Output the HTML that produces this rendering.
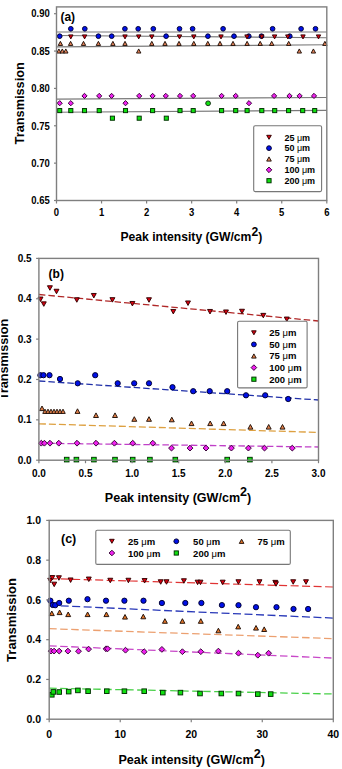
<!DOCTYPE html><html><head><meta charset="utf-8"><style>html,body{margin:0;padding:0;background:#fff;width:342px;height:769px;overflow:hidden;position:relative}</style></head><body><svg width="342" height="769" viewBox="0 0 342 769" style="position:absolute;left:0;top:0" font-family='"Liberation Sans", sans-serif' fill="#000">
<line x1="56.5" y1="32.0" x2="326.8" y2="32.0" stroke="#7a7a7a" stroke-width="1.15"/>
<line x1="56.5" y1="35.45" x2="326.8" y2="37.75" stroke="#7a7a7a" stroke-width="1.15"/>
<line x1="56.5" y1="46.85" x2="326.8" y2="44.75" stroke="#7a7a7a" stroke-width="1.15"/>
<line x1="56.5" y1="99.1" x2="326.8" y2="97.5" stroke="#7a7a7a" stroke-width="1.15"/>
<line x1="56.5" y1="112.2" x2="326.8" y2="110.4" stroke="#7a7a7a" stroke-width="1.15"/>
<circle cx="59.70" cy="36.20" r="2.35" fill="#0010e8" stroke="#000030" stroke-width="0.95"/>
<circle cx="98.40" cy="36.20" r="2.35" fill="#0010e8" stroke="#000030" stroke-width="0.95"/>
<circle cx="111.70" cy="36.20" r="2.35" fill="#0010e8" stroke="#000030" stroke-width="0.95"/>
<circle cx="166.10" cy="36.20" r="2.35" fill="#0010e8" stroke="#000030" stroke-width="0.95"/>
<circle cx="207.90" cy="36.20" r="2.35" fill="#0010e8" stroke="#000030" stroke-width="0.95"/>
<circle cx="234.00" cy="36.20" r="2.35" fill="#0010e8" stroke="#000030" stroke-width="0.95"/>
<circle cx="248.80" cy="36.20" r="2.35" fill="#0010e8" stroke="#000030" stroke-width="0.95"/>
<circle cx="261.50" cy="36.20" r="2.35" fill="#0010e8" stroke="#000030" stroke-width="0.95"/>
<circle cx="289.80" cy="36.20" r="2.35" fill="#0010e8" stroke="#000030" stroke-width="0.95"/>
<path d="M68.60 34.90L73.00 34.90L70.80 38.90Z" fill="#dc0010" stroke="#300000" stroke-width="0.95"/>
<path d="M82.40 34.90L86.80 34.90L84.60 38.90Z" fill="#dc0010" stroke="#300000" stroke-width="0.95"/>
<path d="M122.80 34.90L127.20 34.90L125.00 38.90Z" fill="#dc0010" stroke="#300000" stroke-width="0.95"/>
<path d="M136.50 34.90L140.90 34.90L138.70 38.90Z" fill="#dc0010" stroke="#300000" stroke-width="0.95"/>
<path d="M149.60 34.90L154.00 34.90L151.80 38.90Z" fill="#dc0010" stroke="#300000" stroke-width="0.95"/>
<path d="M177.30 34.90L181.70 34.90L179.50 38.90Z" fill="#dc0010" stroke="#300000" stroke-width="0.95"/>
<path d="M191.60 34.90L196.00 34.90L193.80 38.90Z" fill="#dc0010" stroke="#300000" stroke-width="0.95"/>
<path d="M218.80 34.90L223.20 34.90L221.00 38.90Z" fill="#dc0010" stroke="#300000" stroke-width="0.95"/>
<path d="M244.80 34.90L249.20 34.90L247.00 38.90Z" fill="#dc0010" stroke="#300000" stroke-width="0.95"/>
<path d="M259.60 34.90L264.00 34.90L261.80 38.90Z" fill="#dc0010" stroke="#300000" stroke-width="0.95"/>
<path d="M272.40 34.90L276.80 34.90L274.60 38.90Z" fill="#dc0010" stroke="#300000" stroke-width="0.95"/>
<path d="M285.60 34.90L290.00 34.90L287.80 38.90Z" fill="#dc0010" stroke="#300000" stroke-width="0.95"/>
<path d="M300.80 34.90L305.20 34.90L303.00 38.90Z" fill="#dc0010" stroke="#300000" stroke-width="0.95"/>
<path d="M316.30 34.90L320.70 34.90L318.50 38.90Z" fill="#dc0010" stroke="#300000" stroke-width="0.95"/>
<circle cx="70.80" cy="28.80" r="2.35" fill="#0010e8" stroke="#000030" stroke-width="0.95"/>
<circle cx="84.80" cy="28.80" r="2.35" fill="#0010e8" stroke="#000030" stroke-width="0.95"/>
<circle cx="124.90" cy="28.80" r="2.35" fill="#0010e8" stroke="#000030" stroke-width="0.95"/>
<circle cx="138.20" cy="28.80" r="2.35" fill="#0010e8" stroke="#000030" stroke-width="0.95"/>
<circle cx="153.30" cy="28.80" r="2.35" fill="#0010e8" stroke="#000030" stroke-width="0.95"/>
<circle cx="179.50" cy="28.80" r="2.35" fill="#0010e8" stroke="#000030" stroke-width="0.95"/>
<circle cx="192.60" cy="28.80" r="2.35" fill="#0010e8" stroke="#000030" stroke-width="0.95"/>
<circle cx="223.10" cy="28.80" r="2.35" fill="#0010e8" stroke="#000030" stroke-width="0.95"/>
<circle cx="272.60" cy="28.80" r="2.35" fill="#0010e8" stroke="#000030" stroke-width="0.95"/>
<circle cx="301.10" cy="28.80" r="2.35" fill="#0010e8" stroke="#000030" stroke-width="0.95"/>
<circle cx="315.50" cy="28.80" r="2.35" fill="#0010e8" stroke="#000030" stroke-width="0.95"/>
<path d="M58.20 45.45L62.60 45.45L60.40 41.35Z" fill="#e6845a" stroke="#201008" stroke-width="0.95"/>
<path d="M68.40 45.45L72.80 45.45L70.60 41.35Z" fill="#e6845a" stroke="#201008" stroke-width="0.95"/>
<path d="M81.30 45.45L85.70 45.45L83.50 41.35Z" fill="#e6845a" stroke="#201008" stroke-width="0.95"/>
<path d="M96.20 45.45L100.60 45.45L98.40 41.35Z" fill="#e6845a" stroke="#201008" stroke-width="0.95"/>
<path d="M110.70 45.45L115.10 45.45L112.90 41.35Z" fill="#e6845a" stroke="#201008" stroke-width="0.95"/>
<path d="M122.80 45.45L127.20 45.45L125.00 41.35Z" fill="#e6845a" stroke="#201008" stroke-width="0.95"/>
<path d="M149.60 45.45L154.00 45.45L151.80 41.35Z" fill="#e6845a" stroke="#201008" stroke-width="0.95"/>
<path d="M162.80 45.45L167.20 45.45L165.00 41.35Z" fill="#e6845a" stroke="#201008" stroke-width="0.95"/>
<path d="M176.80 45.45L181.20 45.45L179.00 41.35Z" fill="#e6845a" stroke="#201008" stroke-width="0.95"/>
<path d="M191.60 45.45L196.00 45.45L193.80 41.35Z" fill="#e6845a" stroke="#201008" stroke-width="0.95"/>
<path d="M205.60 45.45L210.00 45.45L207.80 41.35Z" fill="#e6845a" stroke="#201008" stroke-width="0.95"/>
<path d="M217.80 45.45L222.20 45.45L220.00 41.35Z" fill="#e6845a" stroke="#201008" stroke-width="0.95"/>
<path d="M230.80 45.45L235.20 45.45L233.00 41.35Z" fill="#e6845a" stroke="#201008" stroke-width="0.95"/>
<path d="M244.90 45.45L249.30 45.45L247.10 41.35Z" fill="#e6845a" stroke="#201008" stroke-width="0.95"/>
<path d="M258.00 45.45L262.40 45.45L260.20 41.35Z" fill="#e6845a" stroke="#201008" stroke-width="0.95"/>
<path d="M269.50 45.45L273.90 45.45L271.70 41.35Z" fill="#e6845a" stroke="#201008" stroke-width="0.95"/>
<path d="M286.50 45.45L290.90 45.45L288.70 41.35Z" fill="#e6845a" stroke="#201008" stroke-width="0.95"/>
<path d="M322.70 45.45L327.10 45.45L324.90 41.35Z" fill="#e6845a" stroke="#201008" stroke-width="0.95"/>
<path d="M56.70 53.05L61.10 53.05L58.90 48.95Z" fill="#e6845a" stroke="#201008" stroke-width="0.95"/>
<path d="M60.10 53.05L64.50 53.05L62.30 48.95Z" fill="#e6845a" stroke="#201008" stroke-width="0.95"/>
<path d="M63.60 53.05L68.00 53.05L65.80 48.95Z" fill="#e6845a" stroke="#201008" stroke-width="0.95"/>
<path d="M136.50 53.05L140.90 53.05L138.70 48.95Z" fill="#e6845a" stroke="#201008" stroke-width="0.95"/>
<path d="M297.10 53.05L301.50 53.05L299.30 48.95Z" fill="#e6845a" stroke="#201008" stroke-width="0.95"/>
<path d="M311.20 53.05L315.60 53.05L313.40 48.95Z" fill="#e6845a" stroke="#201008" stroke-width="0.95"/>
<path d="M84.50 93.30L87.10 95.90L84.50 98.50L81.90 95.90Z" fill="#f020f0" stroke="#300030" stroke-width="0.95"/>
<path d="M99.20 93.30L101.80 95.90L99.20 98.50L96.60 95.90Z" fill="#f020f0" stroke="#300030" stroke-width="0.95"/>
<path d="M111.60 93.30L114.20 95.90L111.60 98.50L109.00 95.90Z" fill="#f020f0" stroke="#300030" stroke-width="0.95"/>
<path d="M139.20 93.30L141.80 95.90L139.20 98.50L136.60 95.90Z" fill="#f020f0" stroke="#300030" stroke-width="0.95"/>
<path d="M152.60 93.30L155.20 95.90L152.60 98.50L150.00 95.90Z" fill="#f020f0" stroke="#300030" stroke-width="0.95"/>
<path d="M165.80 93.30L168.40 95.90L165.80 98.50L163.20 95.90Z" fill="#f020f0" stroke="#300030" stroke-width="0.95"/>
<path d="M180.00 93.30L182.60 95.90L180.00 98.50L177.40 95.90Z" fill="#f020f0" stroke="#300030" stroke-width="0.95"/>
<path d="M193.20 93.30L195.80 95.90L193.20 98.50L190.60 95.90Z" fill="#f020f0" stroke="#300030" stroke-width="0.95"/>
<path d="M221.60 93.30L224.20 95.90L221.60 98.50L219.00 95.90Z" fill="#f020f0" stroke="#300030" stroke-width="0.95"/>
<path d="M235.70 93.30L238.30 95.90L235.70 98.50L233.10 95.90Z" fill="#f020f0" stroke="#300030" stroke-width="0.95"/>
<path d="M274.10 93.30L276.70 95.90L274.10 98.50L271.50 95.90Z" fill="#f020f0" stroke="#300030" stroke-width="0.95"/>
<path d="M289.50 93.30L292.10 95.90L289.50 98.50L286.90 95.90Z" fill="#f020f0" stroke="#300030" stroke-width="0.95"/>
<path d="M299.60 93.30L302.20 95.90L299.60 98.50L297.00 95.90Z" fill="#f020f0" stroke="#300030" stroke-width="0.95"/>
<path d="M314.00 93.30L316.60 95.90L314.00 98.50L311.40 95.90Z" fill="#f020f0" stroke="#300030" stroke-width="0.95"/>
<path d="M59.70 100.60L62.30 103.20L59.70 105.80L57.10 103.20Z" fill="#f020f0" stroke="#300030" stroke-width="0.95"/>
<path d="M70.80 100.60L73.40 103.20L70.80 105.80L68.20 103.20Z" fill="#f020f0" stroke="#300030" stroke-width="0.95"/>
<path d="M125.50 100.60L128.10 103.20L125.50 105.80L122.90 103.20Z" fill="#f020f0" stroke="#300030" stroke-width="0.95"/>
<path d="M249.00 100.60L251.60 103.20L249.00 105.80L246.40 103.20Z" fill="#f020f0" stroke="#300030" stroke-width="0.95"/>
<rect x="57.65" y="108.55" width="4.1" height="4.1" fill="#10e010" stroke="#003000" stroke-width="0.95"/>
<rect x="68.75" y="108.55" width="4.1" height="4.1" fill="#10e010" stroke="#003000" stroke-width="0.95"/>
<rect x="82.45" y="108.55" width="4.1" height="4.1" fill="#10e010" stroke="#003000" stroke-width="0.95"/>
<rect x="97.15" y="108.55" width="4.1" height="4.1" fill="#10e010" stroke="#003000" stroke-width="0.95"/>
<rect x="123.45" y="108.55" width="4.1" height="4.1" fill="#10e010" stroke="#003000" stroke-width="0.95"/>
<rect x="150.55" y="108.55" width="4.1" height="4.1" fill="#10e010" stroke="#003000" stroke-width="0.95"/>
<rect x="177.95" y="108.55" width="4.1" height="4.1" fill="#10e010" stroke="#003000" stroke-width="0.95"/>
<rect x="191.15" y="108.55" width="4.1" height="4.1" fill="#10e010" stroke="#003000" stroke-width="0.95"/>
<rect x="219.55" y="108.55" width="4.1" height="4.1" fill="#10e010" stroke="#003000" stroke-width="0.95"/>
<rect x="233.65" y="108.55" width="4.1" height="4.1" fill="#10e010" stroke="#003000" stroke-width="0.95"/>
<rect x="245.05" y="108.55" width="4.1" height="4.1" fill="#10e010" stroke="#003000" stroke-width="0.95"/>
<rect x="259.75" y="108.55" width="4.1" height="4.1" fill="#10e010" stroke="#003000" stroke-width="0.95"/>
<rect x="272.65" y="108.55" width="4.1" height="4.1" fill="#10e010" stroke="#003000" stroke-width="0.95"/>
<rect x="286.55" y="108.55" width="4.1" height="4.1" fill="#10e010" stroke="#003000" stroke-width="0.95"/>
<rect x="300.65" y="108.55" width="4.1" height="4.1" fill="#10e010" stroke="#003000" stroke-width="0.95"/>
<rect x="312.65" y="108.55" width="4.1" height="4.1" fill="#10e010" stroke="#003000" stroke-width="0.95"/>
<rect x="110.35" y="116.15" width="4.1" height="4.1" fill="#10e010" stroke="#003000" stroke-width="0.95"/>
<rect x="137.15" y="116.15" width="4.1" height="4.1" fill="#10e010" stroke="#003000" stroke-width="0.95"/>
<rect x="164.25" y="116.15" width="4.1" height="4.1" fill="#10e010" stroke="#003000" stroke-width="0.95"/>
<circle cx="208.1" cy="103.3" r="2.4" fill="#10e010" stroke="#102010" stroke-width="0.9"/>
<rect x="56.5" y="6.9" width="270.3" height="193.6" fill="none" stroke="#7f7f7f" stroke-width="1.4"/>
<line x1="54.0" y1="200.50" x2="56.5" y2="200.50" stroke="#7f7f7f" stroke-width="1.2"/>
<text transform="translate(49.80 200.40) scale(1 1.12)" x="0" y="3.40" font-size="9.5" text-anchor="end" font-weight="bold">0.65</text>
<line x1="54.0" y1="163.14" x2="56.5" y2="163.14" stroke="#7f7f7f" stroke-width="1.2"/>
<text transform="translate(49.80 163.04) scale(1 1.12)" x="0" y="3.40" font-size="9.5" text-anchor="end" font-weight="bold">0.70</text>
<line x1="54.0" y1="125.78" x2="56.5" y2="125.78" stroke="#7f7f7f" stroke-width="1.2"/>
<text transform="translate(49.80 125.68) scale(1 1.12)" x="0" y="3.40" font-size="9.5" text-anchor="end" font-weight="bold">0.75</text>
<line x1="54.0" y1="88.42" x2="56.5" y2="88.42" stroke="#7f7f7f" stroke-width="1.2"/>
<text transform="translate(49.80 88.32) scale(1 1.12)" x="0" y="3.40" font-size="9.5" text-anchor="end" font-weight="bold">0.80</text>
<line x1="54.0" y1="51.06" x2="56.5" y2="51.06" stroke="#7f7f7f" stroke-width="1.2"/>
<text transform="translate(49.80 50.96) scale(1 1.12)" x="0" y="3.40" font-size="9.5" text-anchor="end" font-weight="bold">0.85</text>
<line x1="54.0" y1="13.70" x2="56.5" y2="13.70" stroke="#7f7f7f" stroke-width="1.2"/>
<text transform="translate(49.80 13.60) scale(1 1.12)" x="0" y="3.40" font-size="9.5" text-anchor="end" font-weight="bold">0.90</text>
<line x1="56.50" y1="200.5" x2="56.50" y2="203.5" stroke="#7f7f7f" stroke-width="1.2"/>
<text transform="translate(56.50 212.50) scale(1 1.12)" x="0" y="3.40" font-size="9.5" text-anchor="middle" font-weight="bold">0</text>
<line x1="101.55" y1="200.5" x2="101.55" y2="203.5" stroke="#7f7f7f" stroke-width="1.2"/>
<text transform="translate(101.55 212.50) scale(1 1.12)" x="0" y="3.40" font-size="9.5" text-anchor="middle" font-weight="bold">1</text>
<line x1="146.60" y1="200.5" x2="146.60" y2="203.5" stroke="#7f7f7f" stroke-width="1.2"/>
<text transform="translate(146.60 212.50) scale(1 1.12)" x="0" y="3.40" font-size="9.5" text-anchor="middle" font-weight="bold">2</text>
<line x1="191.65" y1="200.5" x2="191.65" y2="203.5" stroke="#7f7f7f" stroke-width="1.2"/>
<text transform="translate(191.65 212.50) scale(1 1.12)" x="0" y="3.40" font-size="9.5" text-anchor="middle" font-weight="bold">3</text>
<line x1="236.70" y1="200.5" x2="236.70" y2="203.5" stroke="#7f7f7f" stroke-width="1.2"/>
<text transform="translate(236.70 212.50) scale(1 1.12)" x="0" y="3.40" font-size="9.5" text-anchor="middle" font-weight="bold">4</text>
<line x1="281.75" y1="200.5" x2="281.75" y2="203.5" stroke="#7f7f7f" stroke-width="1.2"/>
<text transform="translate(281.75 212.50) scale(1 1.12)" x="0" y="3.40" font-size="9.5" text-anchor="middle" font-weight="bold">5</text>
<line x1="326.80" y1="200.5" x2="326.80" y2="203.5" stroke="#7f7f7f" stroke-width="1.2"/>
<text transform="translate(326.80 212.50) scale(1 1.12)" x="0" y="3.40" font-size="9.5" text-anchor="middle" font-weight="bold">6</text>
<text x="60.40" y="21.00" font-size="12" text-anchor="start" font-weight="bold" >(a)</text>
<text x="23.90" y="103.30" font-size="12.75" text-anchor="middle" font-weight="bold" transform="rotate(-90 23.9 103.3)">Transmission</text>
<text x="120.5" y="241.0" font-size="12.15" font-weight="bold">Peak intensity (GW/cm<tspan dy="-5.4">2</tspan><tspan dy="5.4">)</tspan></text>
<rect x="253.7" y="125.8" width="67.9" height="65.8" fill="#fff" stroke="#777" stroke-width="1.1" rx="1.5"/>
<path d="M266.70 135.30L271.30 135.30L269.00 139.30Z" fill="#dc0010" stroke="#300000" stroke-width="0.95"/>
<text x="284.4" y="140.50" font-size="9" font-weight="bold">25 <tspan font-weight="normal">&#956;</tspan>m</text>
<circle cx="269.00" cy="148.15" r="2.4" fill="#0010e8" stroke="#000030" stroke-width="0.95"/>
<text x="284.4" y="151.35" font-size="9" font-weight="bold">50 <tspan font-weight="normal">&#956;</tspan>m</text>
<path d="M266.70 161.10L271.30 161.10L269.00 156.90Z" fill="#e6845a" stroke="#201008" stroke-width="0.95"/>
<text x="284.4" y="162.20" font-size="9" font-weight="bold">75 <tspan font-weight="normal">&#956;</tspan>m</text>
<path d="M269.00 167.05L271.80 169.85L269.00 172.65L266.20 169.85Z" fill="#f020f0" stroke="#300030" stroke-width="0.95"/>
<text x="284.4" y="173.05" font-size="9" font-weight="bold">100 <tspan font-weight="normal">&#956;</tspan>m</text>
<rect x="266.90" y="178.60" width="4.2" height="4.2" fill="#10e010" stroke="#003000" stroke-width="0.95"/>
<text x="284.4" y="183.90" font-size="9" font-weight="bold">200 <tspan font-weight="normal">&#956;</tspan>m</text>
<line x1="38.9" y1="294.5" x2="318.5" y2="321" stroke="#b02828" stroke-width="1.3" stroke-dasharray="6.5 3"/>
<line x1="38.9" y1="381" x2="318.5" y2="400" stroke="#2030a8" stroke-width="1.3" stroke-dasharray="6.5 3"/>
<line x1="38.9" y1="423.8" x2="318.5" y2="432.4" stroke="#dda040" stroke-width="1.3" stroke-dasharray="7 3"/>
<line x1="38.9" y1="443.2" x2="318.5" y2="447" stroke="#c040c8" stroke-width="1.3" stroke-dasharray="6.5 3"/>
<path d="M38.04 297.06L42.96 297.06L40.50 301.54Z" fill="#dc0010" stroke="#300000" stroke-width="0.95"/>
<path d="M41.34 301.86L46.26 301.86L43.80 306.34Z" fill="#dc0010" stroke="#300000" stroke-width="0.95"/>
<path d="M47.44 285.76L52.36 285.76L49.90 290.24Z" fill="#dc0010" stroke="#300000" stroke-width="0.95"/>
<path d="M54.04 289.26L58.96 289.26L56.50 293.74Z" fill="#dc0010" stroke="#300000" stroke-width="0.95"/>
<path d="M74.34 297.76L79.26 297.76L76.80 302.24Z" fill="#dc0010" stroke="#300000" stroke-width="0.95"/>
<path d="M91.34 293.46L96.26 293.46L93.80 297.94Z" fill="#dc0010" stroke="#300000" stroke-width="0.95"/>
<path d="M109.94 297.66L114.86 297.66L112.40 302.14Z" fill="#dc0010" stroke="#300000" stroke-width="0.95"/>
<path d="M129.94 301.46L134.86 301.46L132.40 305.94Z" fill="#dc0010" stroke="#300000" stroke-width="0.95"/>
<path d="M146.54 297.76L151.46 297.76L149.00 302.24Z" fill="#dc0010" stroke="#300000" stroke-width="0.95"/>
<path d="M170.84 309.46L175.76 309.46L173.30 313.94Z" fill="#dc0010" stroke="#300000" stroke-width="0.95"/>
<path d="M185.54 300.96L190.46 300.96L188.00 305.44Z" fill="#dc0010" stroke="#300000" stroke-width="0.95"/>
<path d="M207.54 309.46L212.46 309.46L210.00 313.94Z" fill="#dc0010" stroke="#300000" stroke-width="0.95"/>
<path d="M223.54 309.96L228.46 309.96L226.00 314.44Z" fill="#dc0010" stroke="#300000" stroke-width="0.95"/>
<path d="M239.54 309.26L244.46 309.26L242.00 313.74Z" fill="#dc0010" stroke="#300000" stroke-width="0.95"/>
<path d="M260.84 313.36L265.76 313.36L263.30 317.84Z" fill="#dc0010" stroke="#300000" stroke-width="0.95"/>
<path d="M284.34 317.06L289.26 317.06L286.80 321.54Z" fill="#dc0010" stroke="#300000" stroke-width="0.95"/>
<circle cx="40.40" cy="375.20" r="2.63" fill="#0010e8" stroke="#000030" stroke-width="0.95"/>
<circle cx="43.50" cy="375.20" r="2.63" fill="#0010e8" stroke="#000030" stroke-width="0.95"/>
<circle cx="49.50" cy="375.20" r="2.63" fill="#0010e8" stroke="#000030" stroke-width="0.95"/>
<circle cx="60.00" cy="379.00" r="2.63" fill="#0010e8" stroke="#000030" stroke-width="0.95"/>
<circle cx="77.70" cy="383.30" r="2.63" fill="#0010e8" stroke="#000030" stroke-width="0.95"/>
<circle cx="95.20" cy="375.20" r="2.63" fill="#0010e8" stroke="#000030" stroke-width="0.95"/>
<circle cx="117.70" cy="383.30" r="2.63" fill="#0010e8" stroke="#000030" stroke-width="0.95"/>
<circle cx="134.20" cy="383.30" r="2.63" fill="#0010e8" stroke="#000030" stroke-width="0.95"/>
<circle cx="149.00" cy="383.30" r="2.63" fill="#0010e8" stroke="#000030" stroke-width="0.95"/>
<circle cx="172.50" cy="387.20" r="2.63" fill="#0010e8" stroke="#000030" stroke-width="0.95"/>
<circle cx="193.20" cy="391.20" r="2.63" fill="#0010e8" stroke="#000030" stroke-width="0.95"/>
<circle cx="209.70" cy="391.20" r="2.63" fill="#0010e8" stroke="#000030" stroke-width="0.95"/>
<circle cx="227.20" cy="391.20" r="2.63" fill="#0010e8" stroke="#000030" stroke-width="0.95"/>
<circle cx="246.00" cy="395.30" r="2.63" fill="#0010e8" stroke="#000030" stroke-width="0.95"/>
<circle cx="265.20" cy="395.30" r="2.63" fill="#0010e8" stroke="#000030" stroke-width="0.95"/>
<circle cx="288.20" cy="399.00" r="2.63" fill="#0010e8" stroke="#000030" stroke-width="0.95"/>
<path d="M39.54 410.60L44.46 410.60L42.00 406.00Z" fill="#e3804a" stroke="#201008" stroke-width="0.95"/>
<path d="M42.76 413.43L47.24 413.43L45.00 409.17Z" fill="#e3804a" stroke="#201008" stroke-width="0.95"/>
<path d="M45.76 413.43L50.24 413.43L48.00 409.17Z" fill="#e3804a" stroke="#201008" stroke-width="0.95"/>
<path d="M48.76 413.43L53.24 413.43L51.00 409.17Z" fill="#e3804a" stroke="#201008" stroke-width="0.95"/>
<path d="M51.76 413.43L56.24 413.43L54.00 409.17Z" fill="#e3804a" stroke="#201008" stroke-width="0.95"/>
<path d="M54.76 413.43L59.24 413.43L57.00 409.17Z" fill="#e3804a" stroke="#201008" stroke-width="0.95"/>
<path d="M57.76 413.43L62.24 413.43L60.00 409.17Z" fill="#e3804a" stroke="#201008" stroke-width="0.95"/>
<path d="M60.76 413.43L65.24 413.43L63.00 409.17Z" fill="#e3804a" stroke="#201008" stroke-width="0.95"/>
<path d="M75.04 413.40L79.96 413.40L77.50 408.80Z" fill="#e3804a" stroke="#201008" stroke-width="0.95"/>
<path d="M93.54 417.50L98.46 417.50L96.00 412.90Z" fill="#e3804a" stroke="#201008" stroke-width="0.95"/>
<path d="M112.54 417.50L117.46 417.50L115.00 412.90Z" fill="#e3804a" stroke="#201008" stroke-width="0.95"/>
<path d="M131.84 421.30L136.76 421.30L134.30 416.70Z" fill="#e3804a" stroke="#201008" stroke-width="0.95"/>
<path d="M146.54 421.30L151.46 421.30L149.00 416.70Z" fill="#e3804a" stroke="#201008" stroke-width="0.95"/>
<path d="M169.34 421.80L174.26 421.80L171.80 417.20Z" fill="#e3804a" stroke="#201008" stroke-width="0.95"/>
<path d="M189.04 425.60L193.96 425.60L191.50 421.00Z" fill="#e3804a" stroke="#201008" stroke-width="0.95"/>
<path d="M207.74 425.60L212.66 425.60L210.20 421.00Z" fill="#e3804a" stroke="#201008" stroke-width="0.95"/>
<path d="M221.14 425.60L226.06 425.60L223.60 421.00Z" fill="#e3804a" stroke="#201008" stroke-width="0.95"/>
<path d="M247.94 429.10L252.86 429.10L250.40 424.50Z" fill="#e3804a" stroke="#201008" stroke-width="0.95"/>
<path d="M266.24 429.10L271.16 429.10L268.70 424.50Z" fill="#e3804a" stroke="#201008" stroke-width="0.95"/>
<path d="M280.04 429.10L284.96 429.10L282.50 424.50Z" fill="#e3804a" stroke="#201008" stroke-width="0.95"/>
<path d="M41.30 440.29L44.21 443.20L41.30 446.11L38.39 443.20Z" fill="#f020f0" stroke="#300030" stroke-width="0.95"/>
<path d="M44.40 440.29L47.31 443.20L44.40 446.11L41.49 443.20Z" fill="#f020f0" stroke="#300030" stroke-width="0.95"/>
<path d="M50.00 440.29L52.91 443.20L50.00 446.11L47.09 443.20Z" fill="#f020f0" stroke="#300030" stroke-width="0.95"/>
<path d="M58.80 440.29L61.71 443.20L58.80 446.11L55.89 443.20Z" fill="#f020f0" stroke="#300030" stroke-width="0.95"/>
<path d="M77.00 440.29L79.91 443.20L77.00 446.11L74.09 443.20Z" fill="#f020f0" stroke="#300030" stroke-width="0.95"/>
<path d="M96.00 440.29L98.91 443.20L96.00 446.11L93.09 443.20Z" fill="#f020f0" stroke="#300030" stroke-width="0.95"/>
<path d="M114.40 440.29L117.31 443.20L114.40 446.11L111.49 443.20Z" fill="#f020f0" stroke="#300030" stroke-width="0.95"/>
<path d="M132.70 440.29L135.61 443.20L132.70 446.11L129.79 443.20Z" fill="#f020f0" stroke="#300030" stroke-width="0.95"/>
<path d="M152.80 440.29L155.71 443.20L152.80 446.11L149.89 443.20Z" fill="#f020f0" stroke="#300030" stroke-width="0.95"/>
<path d="M171.50 445.19L174.41 448.10L171.50 451.01L168.59 448.10Z" fill="#f020f0" stroke="#300030" stroke-width="0.95"/>
<path d="M190.00 445.19L192.91 448.10L190.00 451.01L187.09 448.10Z" fill="#f020f0" stroke="#300030" stroke-width="0.95"/>
<path d="M206.00 445.19L208.91 448.10L206.00 451.01L203.09 448.10Z" fill="#f020f0" stroke="#300030" stroke-width="0.95"/>
<path d="M231.40 445.19L234.31 448.10L231.40 451.01L228.49 448.10Z" fill="#f020f0" stroke="#300030" stroke-width="0.95"/>
<path d="M248.40 445.19L251.31 448.10L248.40 451.01L245.49 448.10Z" fill="#f020f0" stroke="#300030" stroke-width="0.95"/>
<path d="M264.50 445.19L267.41 448.10L264.50 451.01L261.59 448.10Z" fill="#f020f0" stroke="#300030" stroke-width="0.95"/>
<path d="M292.30 445.19L295.21 448.10L292.30 451.01L289.39 448.10Z" fill="#f020f0" stroke="#300030" stroke-width="0.95"/>
<rect x="64.41" y="457.31" width="4.59" height="4.59" fill="#10e010" stroke="#003000" stroke-width="0.95"/>
<rect x="74.11" y="457.31" width="4.59" height="4.59" fill="#10e010" stroke="#003000" stroke-width="0.95"/>
<rect x="91.61" y="457.31" width="4.59" height="4.59" fill="#10e010" stroke="#003000" stroke-width="0.95"/>
<rect x="112.70" y="457.31" width="4.59" height="4.59" fill="#10e010" stroke="#003000" stroke-width="0.95"/>
<rect x="130.41" y="457.31" width="4.59" height="4.59" fill="#10e010" stroke="#003000" stroke-width="0.95"/>
<rect x="147.61" y="457.31" width="4.59" height="4.59" fill="#10e010" stroke="#003000" stroke-width="0.95"/>
<rect x="173.01" y="457.31" width="4.59" height="4.59" fill="#10e010" stroke="#003000" stroke-width="0.95"/>
<rect x="224.91" y="457.31" width="4.59" height="4.59" fill="#10e010" stroke="#003000" stroke-width="0.95"/>
<rect x="247.61" y="457.31" width="4.59" height="4.59" fill="#10e010" stroke="#003000" stroke-width="0.95"/>
<rect x="38.9" y="258.4" width="279.6" height="201.8" fill="none" stroke="#7f7f7f" stroke-width="1.4"/>
<line x1="36.1" y1="460.20" x2="38.9" y2="460.20" stroke="#7f7f7f" stroke-width="1.2"/>
<text x="31.60" y="463.80" font-size="10" text-anchor="end" font-weight="bold" >0.0</text>
<line x1="36.1" y1="419.84" x2="38.9" y2="419.84" stroke="#7f7f7f" stroke-width="1.2"/>
<text x="31.60" y="423.44" font-size="10" text-anchor="end" font-weight="bold" >0.1</text>
<line x1="36.1" y1="379.48" x2="38.9" y2="379.48" stroke="#7f7f7f" stroke-width="1.2"/>
<text x="31.60" y="383.08" font-size="10" text-anchor="end" font-weight="bold" >0.2</text>
<line x1="36.1" y1="339.12" x2="38.9" y2="339.12" stroke="#7f7f7f" stroke-width="1.2"/>
<text x="31.60" y="342.72" font-size="10" text-anchor="end" font-weight="bold" >0.3</text>
<line x1="36.1" y1="298.76" x2="38.9" y2="298.76" stroke="#7f7f7f" stroke-width="1.2"/>
<text x="31.60" y="302.36" font-size="10" text-anchor="end" font-weight="bold" >0.4</text>
<line x1="36.1" y1="258.40" x2="38.9" y2="258.40" stroke="#7f7f7f" stroke-width="1.2"/>
<text x="31.60" y="262.00" font-size="10" text-anchor="end" font-weight="bold" >0.5</text>
<line x1="38.90" y1="460.2" x2="38.90" y2="463.2" stroke="#7f7f7f" stroke-width="1.2"/>
<text x="38.90" y="476.60" font-size="10" text-anchor="middle" font-weight="bold" >0.0</text>
<line x1="85.50" y1="460.2" x2="85.50" y2="463.2" stroke="#7f7f7f" stroke-width="1.2"/>
<text x="85.50" y="476.60" font-size="10" text-anchor="middle" font-weight="bold" >0.5</text>
<line x1="132.10" y1="460.2" x2="132.10" y2="463.2" stroke="#7f7f7f" stroke-width="1.2"/>
<text x="132.10" y="476.60" font-size="10" text-anchor="middle" font-weight="bold" >1.0</text>
<line x1="178.70" y1="460.2" x2="178.70" y2="463.2" stroke="#7f7f7f" stroke-width="1.2"/>
<text x="178.70" y="476.60" font-size="10" text-anchor="middle" font-weight="bold" >1.5</text>
<line x1="225.30" y1="460.2" x2="225.30" y2="463.2" stroke="#7f7f7f" stroke-width="1.2"/>
<text x="225.30" y="476.60" font-size="10" text-anchor="middle" font-weight="bold" >2.0</text>
<line x1="271.90" y1="460.2" x2="271.90" y2="463.2" stroke="#7f7f7f" stroke-width="1.2"/>
<text x="271.90" y="476.60" font-size="10" text-anchor="middle" font-weight="bold" >2.5</text>
<line x1="318.50" y1="460.2" x2="318.50" y2="463.2" stroke="#7f7f7f" stroke-width="1.2"/>
<text x="318.50" y="476.60" font-size="10" text-anchor="middle" font-weight="bold" >3.0</text>
<text x="48.60" y="277.60" font-size="12" text-anchor="start" font-weight="bold" >(b)</text>
<text x="8.10" y="359.50" font-size="12.6" text-anchor="middle" font-weight="bold" transform="rotate(-90 8.1 359.5)">Transmission</text>
<rect x="0" y="310" width="1.2" height="100" fill="#fff"/>
<text x="104.8" y="501.8" font-size="12.55" font-weight="bold">Peak intensity (GW/cm<tspan dy="-5.4">2</tspan><tspan dy="5.4">)</tspan></text>
<rect x="237.6" y="321.3" width="69.5" height="66.6" fill="#fff" stroke="#777" stroke-width="1.1" rx="1.5"/>
<path d="M251.60 330.80L256.20 330.80L253.90 334.80Z" fill="#dc0010" stroke="#300000" stroke-width="0.95"/>
<text x="269.2" y="336.20" font-size="9.5" font-weight="bold">25 <tspan font-weight="normal">&#956;</tspan>m</text>
<circle cx="253.90" cy="344.40" r="2.4" fill="#0010e8" stroke="#000030" stroke-width="0.95"/>
<text x="269.2" y="347.80" font-size="9.5" font-weight="bold">50 <tspan font-weight="normal">&#956;</tspan>m</text>
<path d="M251.60 358.10L256.20 358.10L253.90 353.90Z" fill="#e3804a" stroke="#201008" stroke-width="0.95"/>
<text x="269.2" y="359.40" font-size="9.5" font-weight="bold">75 <tspan font-weight="normal">&#956;</tspan>m</text>
<path d="M253.90 364.80L256.70 367.60L253.90 370.40L251.10 367.60Z" fill="#f020f0" stroke="#300030" stroke-width="0.95"/>
<text x="269.2" y="371.00" font-size="9.5" font-weight="bold">100 <tspan font-weight="normal">&#956;</tspan>m</text>
<rect x="251.80" y="377.10" width="4.2" height="4.2" fill="#10e010" stroke="#003000" stroke-width="0.95"/>
<text x="269.2" y="382.60" font-size="9.5" font-weight="bold">200 <tspan font-weight="normal">&#956;</tspan>m</text>
<line x1="49.2" y1="578.6" x2="333.3" y2="587" stroke="#e03434" stroke-width="1.2" stroke-dasharray="8 3.5"/>
<line x1="49.2" y1="605.3" x2="333.3" y2="618.1" stroke="#2838b8" stroke-width="1.3" stroke-dasharray="8 3.5"/>
<line x1="49.2" y1="628.7" x2="333.3" y2="638.6" stroke="#eca070" stroke-width="1.3" stroke-dasharray="7.5 3.5"/>
<line x1="49.2" y1="645.8" x2="333.3" y2="658.1" stroke="#c848c8" stroke-width="1.3" stroke-dasharray="7.5 3.5"/>
<line x1="49.2" y1="688.2" x2="333.3" y2="694" stroke="#48d048" stroke-width="1.3" stroke-dasharray="7.5 3.5"/>
<path d="M47.74 578.26L52.66 578.26L50.20 582.74Z" fill="#dc0010" stroke="#300000" stroke-width="0.95"/>
<path d="M49.84 575.56L54.76 575.56L52.30 580.04Z" fill="#dc0010" stroke="#300000" stroke-width="0.95"/>
<path d="M51.74 582.16L56.66 582.16L54.20 586.64Z" fill="#dc0010" stroke="#300000" stroke-width="0.95"/>
<path d="M56.44 575.76L61.36 575.76L58.90 580.24Z" fill="#dc0010" stroke="#300000" stroke-width="0.95"/>
<path d="M68.14 577.96L73.06 577.96L70.60 582.44Z" fill="#dc0010" stroke="#300000" stroke-width="0.95"/>
<path d="M86.34 577.06L91.26 577.06L88.80 581.54Z" fill="#dc0010" stroke="#300000" stroke-width="0.95"/>
<path d="M107.84 578.26L112.76 578.26L110.30 582.74Z" fill="#dc0010" stroke="#300000" stroke-width="0.95"/>
<path d="M125.94 578.26L130.86 578.26L128.40 582.74Z" fill="#dc0010" stroke="#300000" stroke-width="0.95"/>
<path d="M142.14 578.56L147.06 578.56L144.60 583.04Z" fill="#dc0010" stroke="#300000" stroke-width="0.95"/>
<path d="M158.24 579.76L163.16 579.76L160.70 584.24Z" fill="#dc0010" stroke="#300000" stroke-width="0.95"/>
<path d="M164.04 579.76L168.96 579.76L166.50 584.24Z" fill="#dc0010" stroke="#300000" stroke-width="0.95"/>
<path d="M181.44 578.76L186.36 578.76L183.90 583.24Z" fill="#dc0010" stroke="#300000" stroke-width="0.95"/>
<path d="M195.14 580.16L200.06 580.16L197.60 584.64Z" fill="#dc0010" stroke="#300000" stroke-width="0.95"/>
<path d="M198.04 580.16L202.96 580.16L200.50 584.64Z" fill="#dc0010" stroke="#300000" stroke-width="0.95"/>
<path d="M220.24 580.16L225.16 580.16L222.70 584.64Z" fill="#dc0010" stroke="#300000" stroke-width="0.95"/>
<path d="M235.94 579.76L240.86 579.76L238.40 584.24Z" fill="#dc0010" stroke="#300000" stroke-width="0.95"/>
<path d="M257.04 579.76L261.96 579.76L259.50 584.24Z" fill="#dc0010" stroke="#300000" stroke-width="0.95"/>
<path d="M272.84 580.36L277.76 580.36L275.30 584.84Z" fill="#dc0010" stroke="#300000" stroke-width="0.95"/>
<path d="M273.54 581.76L278.46 581.76L276.00 586.24Z" fill="#dc0010" stroke="#300000" stroke-width="0.95"/>
<path d="M290.74 579.76L295.66 579.76L293.20 584.24Z" fill="#dc0010" stroke="#300000" stroke-width="0.95"/>
<path d="M303.54 579.76L308.46 579.76L306.00 584.24Z" fill="#dc0010" stroke="#300000" stroke-width="0.95"/>
<circle cx="50.40" cy="600.70" r="2.63" fill="#0010e8" stroke="#000030" stroke-width="0.95"/>
<circle cx="52.80" cy="605.00" r="2.63" fill="#0010e8" stroke="#000030" stroke-width="0.95"/>
<circle cx="55.20" cy="605.20" r="2.63" fill="#0010e8" stroke="#000030" stroke-width="0.95"/>
<circle cx="59.20" cy="603.00" r="2.63" fill="#0010e8" stroke="#000030" stroke-width="0.95"/>
<circle cx="68.80" cy="600.70" r="2.63" fill="#0010e8" stroke="#000030" stroke-width="0.95"/>
<circle cx="87.50" cy="599.20" r="2.63" fill="#0010e8" stroke="#000030" stroke-width="0.95"/>
<circle cx="106.00" cy="600.70" r="2.63" fill="#0010e8" stroke="#000030" stroke-width="0.95"/>
<circle cx="124.40" cy="600.70" r="2.63" fill="#0010e8" stroke="#000030" stroke-width="0.95"/>
<circle cx="143.50" cy="600.70" r="2.63" fill="#0010e8" stroke="#000030" stroke-width="0.95"/>
<circle cx="161.90" cy="603.00" r="2.63" fill="#0010e8" stroke="#000030" stroke-width="0.95"/>
<circle cx="185.30" cy="603.00" r="2.63" fill="#0010e8" stroke="#000030" stroke-width="0.95"/>
<circle cx="201.40" cy="603.00" r="2.63" fill="#0010e8" stroke="#000030" stroke-width="0.95"/>
<circle cx="221.90" cy="605.10" r="2.63" fill="#0010e8" stroke="#000030" stroke-width="0.95"/>
<circle cx="238.50" cy="605.20" r="2.63" fill="#0010e8" stroke="#000030" stroke-width="0.95"/>
<circle cx="256.00" cy="607.20" r="2.63" fill="#0010e8" stroke="#000030" stroke-width="0.95"/>
<circle cx="276.50" cy="607.20" r="2.63" fill="#0010e8" stroke="#000030" stroke-width="0.95"/>
<circle cx="293.50" cy="609.00" r="2.63" fill="#0010e8" stroke="#000030" stroke-width="0.95"/>
<circle cx="308.10" cy="609.00" r="2.63" fill="#0010e8" stroke="#000030" stroke-width="0.95"/>
<path d="M49.34 615.60L54.26 615.60L51.80 611.00Z" fill="#e27428" stroke="#201008" stroke-width="0.95"/>
<path d="M57.14 614.60L62.06 614.60L59.60 610.00Z" fill="#e27428" stroke="#201008" stroke-width="0.95"/>
<path d="M65.74 616.60L70.66 616.60L68.20 612.00Z" fill="#e27428" stroke="#201008" stroke-width="0.95"/>
<path d="M85.14 616.60L90.06 616.60L87.60 612.00Z" fill="#e27428" stroke="#201008" stroke-width="0.95"/>
<path d="M103.94 616.60L108.86 616.60L106.40 612.00Z" fill="#e27428" stroke="#201008" stroke-width="0.95"/>
<path d="M122.54 619.10L127.46 619.10L125.00 614.50Z" fill="#e27428" stroke="#201008" stroke-width="0.95"/>
<path d="M140.84 618.80L145.76 618.80L143.30 614.20Z" fill="#e27428" stroke="#201008" stroke-width="0.95"/>
<path d="M162.44 623.30L167.36 623.30L164.90 618.70Z" fill="#e27428" stroke="#201008" stroke-width="0.95"/>
<path d="M179.94 623.30L184.86 623.30L182.40 618.70Z" fill="#e27428" stroke="#201008" stroke-width="0.95"/>
<path d="M198.34 623.30L203.26 623.30L200.80 618.70Z" fill="#e27428" stroke="#201008" stroke-width="0.95"/>
<path d="M215.94 632.80L220.86 632.80L218.40 628.20Z" fill="#e27428" stroke="#201008" stroke-width="0.95"/>
<path d="M235.74 628.90L240.66 628.90L238.20 624.30Z" fill="#e27428" stroke="#201008" stroke-width="0.95"/>
<path d="M253.54 630.10L258.46 630.10L256.00 625.50Z" fill="#e27428" stroke="#201008" stroke-width="0.95"/>
<path d="M261.74 631.50L266.66 631.50L264.20 626.90Z" fill="#e27428" stroke="#201008" stroke-width="0.95"/>
<path d="M51.10 648.19L54.01 651.10L51.10 654.01L48.19 651.10Z" fill="#f020f0" stroke="#300030" stroke-width="0.95"/>
<path d="M54.10 648.19L57.01 651.10L54.10 654.01L51.19 651.10Z" fill="#f020f0" stroke="#300030" stroke-width="0.95"/>
<path d="M59.20 648.19L62.11 651.10L59.20 654.01L56.29 651.10Z" fill="#f020f0" stroke="#300030" stroke-width="0.95"/>
<path d="M67.90 648.19L70.81 651.10L67.90 654.01L64.99 651.10Z" fill="#f020f0" stroke="#300030" stroke-width="0.95"/>
<path d="M78.50 648.29L81.41 651.20L78.50 654.11L75.59 651.20Z" fill="#f020f0" stroke="#300030" stroke-width="0.95"/>
<path d="M88.60 646.19L91.51 649.10L88.60 652.01L85.69 649.10Z" fill="#f020f0" stroke="#300030" stroke-width="0.95"/>
<path d="M106.00 645.89L108.91 648.80L106.00 651.71L103.09 648.80Z" fill="#f020f0" stroke="#300030" stroke-width="0.95"/>
<path d="M107.60 645.89L110.51 648.80L107.60 651.71L104.69 648.80Z" fill="#f020f0" stroke="#300030" stroke-width="0.95"/>
<path d="M125.50 647.29L128.41 650.20L125.50 653.11L122.59 650.20Z" fill="#f020f0" stroke="#300030" stroke-width="0.95"/>
<path d="M144.20 648.79L147.11 651.70L144.20 654.61L141.29 651.70Z" fill="#f020f0" stroke="#300030" stroke-width="0.95"/>
<path d="M161.90 646.49L164.81 649.40L161.90 652.31L158.99 649.40Z" fill="#f020f0" stroke="#300030" stroke-width="0.95"/>
<path d="M182.40 648.79L185.31 651.70L182.40 654.61L179.49 651.70Z" fill="#f020f0" stroke="#300030" stroke-width="0.95"/>
<path d="M200.80 648.79L203.71 651.70L200.80 654.61L197.89 651.70Z" fill="#f020f0" stroke="#300030" stroke-width="0.95"/>
<path d="M218.40 648.19L221.31 651.10L218.40 654.01L215.49 651.10Z" fill="#f020f0" stroke="#300030" stroke-width="0.95"/>
<path d="M238.50 650.29L241.41 653.20L238.50 656.11L235.59 653.20Z" fill="#f020f0" stroke="#300030" stroke-width="0.95"/>
<path d="M257.80 652.29L260.71 655.20L257.80 658.11L254.89 655.20Z" fill="#f020f0" stroke="#300030" stroke-width="0.95"/>
<path d="M268.60 650.29L271.51 653.20L268.60 656.11L265.69 653.20Z" fill="#f020f0" stroke="#300030" stroke-width="0.95"/>
<rect x="49.50" y="692.50" width="4.59" height="4.59" fill="#10e010" stroke="#003000" stroke-width="0.95"/>
<rect x="51.00" y="689.61" width="4.59" height="4.59" fill="#10e010" stroke="#003000" stroke-width="0.95"/>
<rect x="56.91" y="689.71" width="4.59" height="4.59" fill="#10e010" stroke="#003000" stroke-width="0.95"/>
<rect x="66.41" y="689.31" width="4.59" height="4.59" fill="#10e010" stroke="#003000" stroke-width="0.95"/>
<rect x="75.61" y="688.11" width="4.59" height="4.59" fill="#10e010" stroke="#003000" stroke-width="0.95"/>
<rect x="85.80" y="688.91" width="4.59" height="4.59" fill="#10e010" stroke="#003000" stroke-width="0.95"/>
<rect x="104.50" y="688.91" width="4.59" height="4.59" fill="#10e010" stroke="#003000" stroke-width="0.95"/>
<rect x="122.11" y="688.91" width="4.59" height="4.59" fill="#10e010" stroke="#003000" stroke-width="0.95"/>
<rect x="141.91" y="688.91" width="4.59" height="4.59" fill="#10e010" stroke="#003000" stroke-width="0.95"/>
<rect x="160.51" y="690.31" width="4.59" height="4.59" fill="#10e010" stroke="#003000" stroke-width="0.95"/>
<rect x="178.11" y="690.31" width="4.59" height="4.59" fill="#10e010" stroke="#003000" stroke-width="0.95"/>
<rect x="197.71" y="691.21" width="4.59" height="4.59" fill="#10e010" stroke="#003000" stroke-width="0.95"/>
<rect x="219.01" y="691.21" width="4.59" height="4.59" fill="#10e010" stroke="#003000" stroke-width="0.95"/>
<rect x="236.21" y="691.21" width="4.59" height="4.59" fill="#10e010" stroke="#003000" stroke-width="0.95"/>
<rect x="255.51" y="691.81" width="4.59" height="4.59" fill="#10e010" stroke="#003000" stroke-width="0.95"/>
<rect x="268.40" y="691.81" width="4.59" height="4.59" fill="#10e010" stroke="#003000" stroke-width="0.95"/>
<rect x="49.2" y="520.4" width="284.1" height="198.80000000000007" fill="none" stroke="#7f7f7f" stroke-width="1.4"/>
<line x1="46.2" y1="719.20" x2="49.2" y2="719.20" stroke="#7f7f7f" stroke-width="1.2"/>
<text x="41.00" y="723.00" font-size="10.5" text-anchor="end" font-weight="bold" >0.0</text>
<line x1="46.2" y1="679.44" x2="49.2" y2="679.44" stroke="#7f7f7f" stroke-width="1.2"/>
<text x="41.00" y="683.24" font-size="10.5" text-anchor="end" font-weight="bold" >0.2</text>
<line x1="46.2" y1="639.68" x2="49.2" y2="639.68" stroke="#7f7f7f" stroke-width="1.2"/>
<text x="41.00" y="643.48" font-size="10.5" text-anchor="end" font-weight="bold" >0.4</text>
<line x1="46.2" y1="599.92" x2="49.2" y2="599.92" stroke="#7f7f7f" stroke-width="1.2"/>
<text x="41.00" y="603.72" font-size="10.5" text-anchor="end" font-weight="bold" >0.6</text>
<line x1="46.2" y1="560.16" x2="49.2" y2="560.16" stroke="#7f7f7f" stroke-width="1.2"/>
<text x="41.00" y="563.96" font-size="10.5" text-anchor="end" font-weight="bold" >0.8</text>
<line x1="46.2" y1="520.40" x2="49.2" y2="520.40" stroke="#7f7f7f" stroke-width="1.2"/>
<text x="41.00" y="524.20" font-size="10.5" text-anchor="end" font-weight="bold" >1.0</text>
<line x1="49.20" y1="719.2" x2="49.20" y2="722.2" stroke="#7f7f7f" stroke-width="1.2"/>
<text x="49.20" y="737.70" font-size="10.5" text-anchor="middle" font-weight="bold" >0</text>
<line x1="120.23" y1="719.2" x2="120.23" y2="722.2" stroke="#7f7f7f" stroke-width="1.2"/>
<text x="120.23" y="737.70" font-size="10.5" text-anchor="middle" font-weight="bold" >10</text>
<line x1="191.25" y1="719.2" x2="191.25" y2="722.2" stroke="#7f7f7f" stroke-width="1.2"/>
<text x="191.25" y="737.70" font-size="10.5" text-anchor="middle" font-weight="bold" >20</text>
<line x1="262.27" y1="719.2" x2="262.27" y2="722.2" stroke="#7f7f7f" stroke-width="1.2"/>
<text x="262.27" y="737.70" font-size="10.5" text-anchor="middle" font-weight="bold" >30</text>
<line x1="333.30" y1="719.2" x2="333.30" y2="722.2" stroke="#7f7f7f" stroke-width="1.2"/>
<text x="333.30" y="737.70" font-size="10.5" text-anchor="middle" font-weight="bold" >40</text>
<text x="61.00" y="543.30" font-size="12.5" text-anchor="start" font-weight="bold" >(c)</text>
<text x="15.90" y="620.00" font-size="13" text-anchor="middle" font-weight="bold" transform="rotate(-90 15.9 620)">Transmission</text>
<text x="118.4" y="763.6" font-size="12.55" font-weight="bold">Peak intensity (GW/cm<tspan dy="-5.4">2</tspan><tspan dy="5.4">)</tspan></text>
<rect x="95.8" y="530.2" width="194.5" height="34.2" fill="#fff" stroke="#777" stroke-width="1.1" rx="1.5"/>
<path d="M109.60 539.30L114.20 539.30L111.90 543.30Z" fill="#dc0010" stroke="#300000" stroke-width="0.95"/>
<text x="128" y="544.80" font-size="9.5" font-weight="bold">25 <tspan font-weight="normal">&#956;</tspan>m</text>
<circle cx="176.30" cy="541.30" r="2.4" fill="#0010e8" stroke="#000030" stroke-width="0.95"/>
<text x="193.1" y="544.80" font-size="9.5" font-weight="bold">50 <tspan font-weight="normal">&#956;</tspan>m</text>
<path d="M239.30 543.40L243.90 543.40L241.60 539.20Z" fill="#e27428" stroke="#201008" stroke-width="0.95"/>
<text x="257.5" y="544.80" font-size="9.5" font-weight="bold">75 <tspan font-weight="normal">&#956;</tspan>m</text>
<path d="M111.90 550.20L114.70 553.00L111.90 555.80L109.10 553.00Z" fill="#f020f0" stroke="#300030" stroke-width="0.95"/>
<text x="128" y="556.50" font-size="9.5" font-weight="bold">100 <tspan font-weight="normal">&#956;</tspan>m</text>
<rect x="174.20" y="550.90" width="4.2" height="4.2" fill="#10e010" stroke="#003000" stroke-width="0.95"/>
<text x="193.1" y="556.50" font-size="9.5" font-weight="bold">200 <tspan font-weight="normal">&#956;</tspan>m</text>
</svg></body></html>
